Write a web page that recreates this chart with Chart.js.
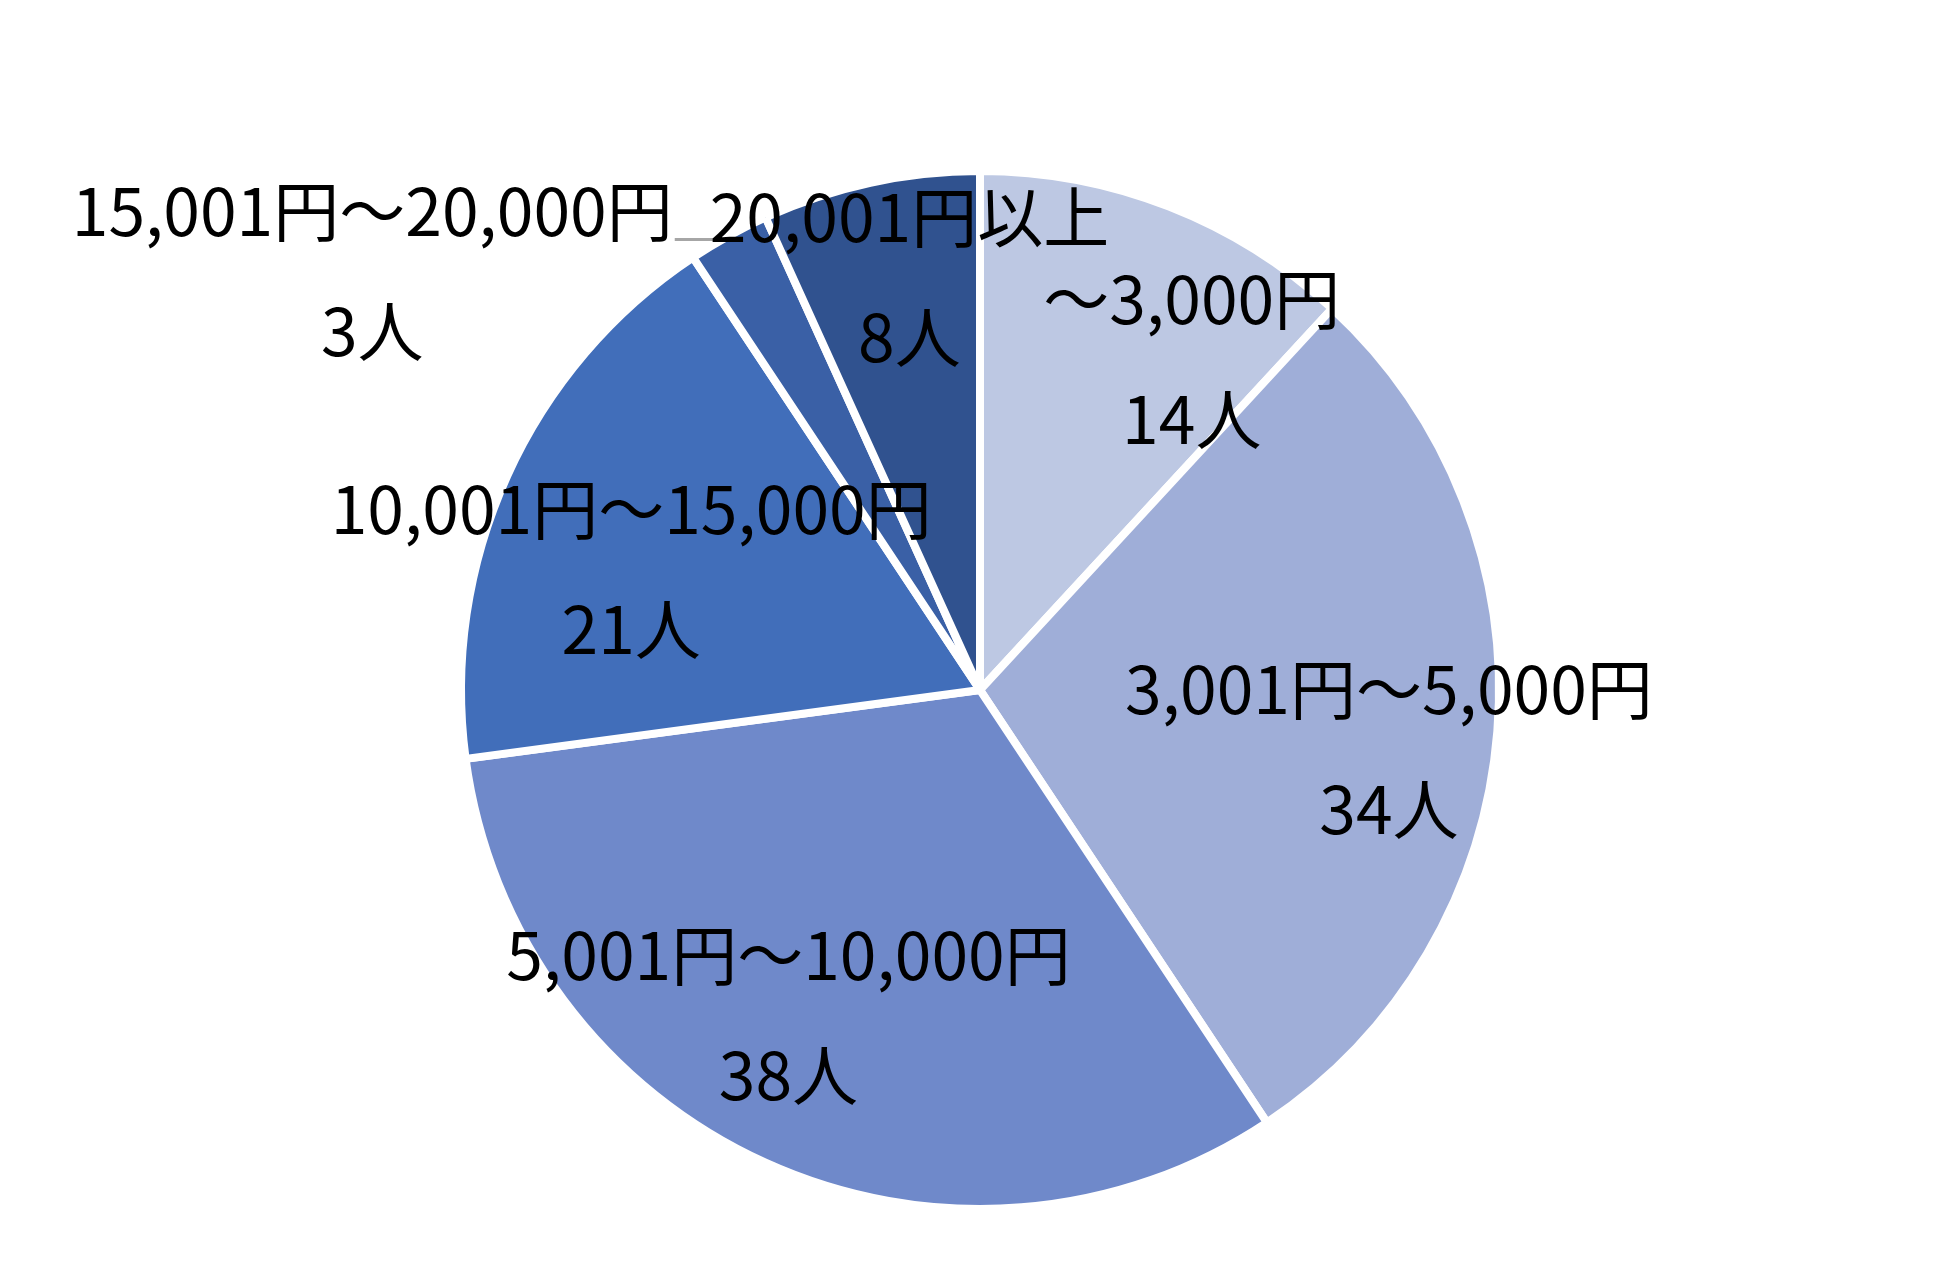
<!DOCTYPE html>
<html lang="ja">
<head>
<meta charset="utf-8">
<script src="https://cdn.jsdelivr.net/npm/chart.js@4"></script>
<style>
  html, body { margin: 0; padding: 0; background: #ffffff; }
  #pieChart { display: block; }
</style>
</head>
<body>
<canvas id="pieChart" width="1950" height="1269"></canvas>
<script>
// 金額帯ごとの人数
const categories = ["～3,000円", "3,001円～5,000円", "5,001円～10,000円", "10,001円～15,000円", "15,001円～20,000円", "20,001円以上"];
const counts = [14, 34, 38, 21, 3, 8];
const unit = "人";

// スライスの色（薄い青 → 濃い青）
const sliceColors = ["#BDC8E3", "#9FAED8", "#6F89CA", "#416EBA", "#3A60A6", "#30528F"];

// ラベル位置（円の中心からのずれ、半径を1とした値）
const labelOffsets = [
  [0.408, -0.638],
  [0.788, 0.113],
  [-0.369, 0.627],
  [-0.672, -0.234],
  [-1.171, -0.807],
  [-0.136, -0.795]
];
const leaderFor = [4]; // 引き出し線を付けるスライス

const fontSpec = "66px 'Noto Sans CJK JP', 'Noto Sans', sans-serif";
const lineGap = 120;

// ラベルと引き出し線を描くプラグイン
const labelPlugin = {
  id: "sliceLabels",
  afterDatasetsDraw(chart) {
    const ctx = chart.ctx;
    const arcs = chart.getDatasetMeta(0).data;
    ctx.save();
    ctx.font = fontSpec;
    ctx.textAlign = "center";
    ctx.textBaseline = "middle";

    // 引き出し線
    leaderFor.forEach(i => {
      const arc = arcs[i];
      const mid = (arc.startAngle + arc.endAngle) / 2;
      const r = arc.outerRadius - arc.options.borderWidth / 2;
      const ex = arc.x + Math.cos(mid) * r;
      const ey = arc.y + Math.sin(mid) * r;
      const lx = arc.x + labelOffsets[i][0] * arc.outerRadius;
      const w = ctx.measureText(categories[i]).width;
      ctx.strokeStyle = "#A6A6A6";
      ctx.lineWidth = 3;
      ctx.beginPath();
      ctx.moveTo(lx + w / 2 + 2, ey);
      ctx.lineTo(ex, ey);
      ctx.stroke();
    });

    ctx.fillStyle = "#000000";
    arcs.forEach((arc, i) => {
      const cx = arc.x + labelOffsets[i][0] * arc.outerRadius;
      const cy = arc.y + labelOffsets[i][1] * arc.outerRadius;
      ctx.fillText(categories[i], cx, cy - lineGap / 2);
      ctx.fillText(counts[i] + unit, cx, cy + lineGap / 2);
    });
    ctx.restore();
  }
};

const ctx = document.getElementById("pieChart").getContext("2d");
const pieChart = new Chart(ctx, {
  type: "pie",
  data: {
    labels: categories,
    datasets: [{
      data: counts,
      backgroundColor: sliceColors,
      borderColor: "#ffffff",
      borderWidth: 8
    }]
  },
  options: {
    responsive: false,
    devicePixelRatio: 1,
    animation: false,
    radius: 519,
    layout: { padding: { left: 10, right: 0, top: 111, bottom: 0 } },
    plugins: {
      legend: { display: false },
      tooltip: { enabled: false }
    }
  },
  plugins: [labelPlugin]
});
</script>
</body>
</html>
